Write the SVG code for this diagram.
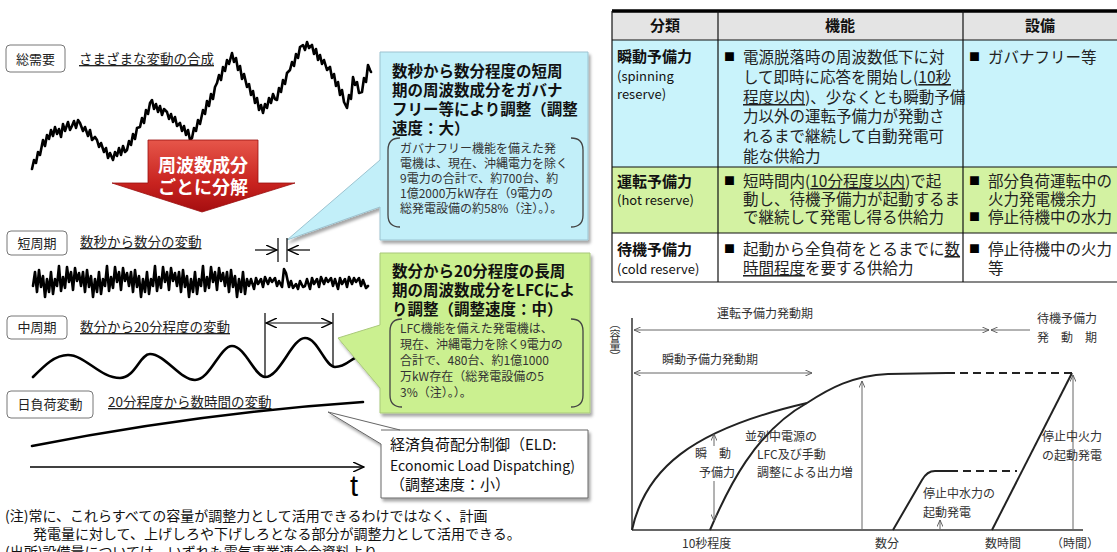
<svg xmlns="http://www.w3.org/2000/svg" width="1117" height="552" viewBox="0 0 1117 552">
<style>
text{font-family:"Noto Sans CJK JP","Noto Sans",sans-serif;fill:#222}
.lbl{font-size:13px}
.ul{font-size:13.5px;text-decoration:underline}
.box{fill:#fff;stroke:#777;stroke-width:1}
.ttl{font-size:15.5px;font-weight:bold;fill:#111}
.sm{font-size:12px;fill:#333}
.brk{fill:none;stroke:#444;stroke-width:1.3}
.wave{fill:none;stroke:#000;stroke-linejoin:round;stroke-linecap:round}
.th{font-size:15px;font-weight:bold;fill:#111}
.c1{font-size:15px;font-weight:bold;fill:#111}
.en{font-size:13px;fill:#111;font-weight:normal}
.td{font-size:15.5px;fill:#222}
.bul{font-size:11px;fill:#000}
.grid{stroke:#111;stroke-width:1.2}
.ch{font-size:12px;fill:#333}
.thin{fill:none;stroke:#555;stroke-width:0.9}
.crv{fill:none;stroke:#222;stroke-width:2}
.u{text-decoration:underline}
</style>
<defs>
<filter id="sh" x="-10%" y="-10%" width="130%" height="130%"><feDropShadow dx="2" dy="3" stdDeviation="1.8" flood-color="#000" flood-opacity="0.35"/></filter>
<linearGradient id="red" x1="0" y1="0" x2="0" y2="1"><stop offset="0" stop-color="#e6564a"/><stop offset="0.6" stop-color="#c8231f"/><stop offset="1" stop-color="#a50e10"/></linearGradient>
<marker id="chev" viewBox="0 0 10 8" refX="9" refY="4" markerWidth="8" markerHeight="6" markerUnits="userSpaceOnUse" orient="auto-start-reverse"><path d="M0,0 L9,4 L0,8" fill="none" stroke="#555" stroke-width="1.2"/></marker>
<marker id="chevB" viewBox="0 0 12 10" refX="11" refY="5" markerWidth="12" markerHeight="10" markerUnits="userSpaceOnUse" orient="auto-start-reverse"><path d="M0,0 L11,5 L0,10" fill="none" stroke="#000" stroke-width="1.4"/></marker>
</defs>
<rect width="1117" height="552" fill="#fff"/>

<!-- left side nodes -->
<g id="n-total">
<rect class="box" x="6" y="45" width="59" height="27" rx="4"/>
<text class="lbl" x="35.5" y="64" text-anchor="middle">総需要</text>
<text class="ul" x="79" y="64">さまざまな変動の合成</text>
<polyline class="wave" stroke-width="2.6" points="32,169 34,160 36,163 38,152 40,155 43,140 45,146 47,135 49,139 51,130 53,136 55,127 57,134 59,129 61,137 63,124 65,131 68,122 70,130 72,126 74,121 76,128 78,120 80,123 83,131 85,127 88,136 90,130 92,140 95,137 97,140 99,147 101,143 104,152 106,148 108,158 110,153 113,160 115,152 117,156 119,148 121,155 123,146 125,152 127,150 129,141 131,145 133,134 135,139 137,128 140,127 142,118 144,123 146,110 148,114 150,103 152,100 154,109 156,104 158,112 160,106 162,115 164,109 167,112 169,119 171,114 173,122 175,117 177,126 180,123 182,131 184,126 186,135 188,130 190,140 192,138 194,128 196,131 198,120 200,124 203,110 205,114 207,101 209,106 211,94 213,99 215,87 217,83 219,75 221,80 223,67 225,71 227,60 229,64 232,53 234,62 236,58 238,70 240,66 242,79 244,74 247,87 249,84 251,95 253,91 255,103 257,98 259,110 261,105 263,113 265,104 267,108 269,98 271,103 273,94 275,99 277,100 279,88 281,92 283,80 285,84 287,73 290,70 292,62 294,66 296,54 298,58 300,47 303,45 305,50 307,42 309,48 312,45 314,54 316,49 318,60 320,55 322,64 324,60 327,70 330,67 332,78 334,74 336,86 338,82 340,95 342,90 344,102 347,108 349,95 351,99 353,77 355,85 357,82 359,93 362,92 364,78 366,82 368,65 370,70 371,72"/>
</g>

<g id="n-decompose">
<path d="M148,140 L258,140 L258,183 L295,183 L202,212 L112,183 L148,183 Z" fill="url(#red)" stroke="#9a1010" stroke-width="0.8"/>
<text text-anchor="middle" style="font-size:18px;font-weight:bold;fill:#fff"><tspan x="203" y="172">周波数成分</tspan><tspan x="203" y="194">ごとに分解</tspan></text>
</g>

<g id="n-short">
<rect class="box" x="7" y="231" width="60" height="24" rx="4"/>
<text class="lbl" x="37" y="248" text-anchor="middle">短周期</text>
<text class="ul" x="80" y="247">数秒から数分の変動</text>
<path class="wave" stroke-width="2.6" d="M33,286 l2,-14 2,20 2,-22 2,17 2,-11 2,21 2,-18 2,13 2,-20 2,22 2,-15 2,7 l2,-20 2,25 2,-14 2,11 2,-21 2,15 2,-10 2,18 2,-22 2,13 2,-8 2,13 l2,-14 2,20 2,-22 2,17 2,-11 2,21 2,-18 2,13 2,-20 2,22 2,-15 2,7 l2,-20 2,25 2,-14 2,11 2,-21 2,15 2,-10 2,18 2,-22 2,13 2,-8 2,13 l2,-14 2,20 2,-22 2,17 2,-11 2,21 2,-18 2,13 2,-20 2,22 2,-15 2,7 l2,-20 2,25 2,-14 2,11 2,-21 2,15 2,-10 2,18 2,-22 2,13 2,-8 2,13 l2,-14 2,20 2,-22 2,17 2,-11 2,21 2,-18 2,13 2,-20 2,22 2,-15 2,7 l2,-20 2,25 2,-14 2,11 2,-21 2,15 2,-10 2,18 2,-22 2,13 2,-8 2,13 l2,-14 2,20 2,-22 2,17 2,-11 2,21 2,-18 2,13 2,-20 2,22 2,-15 2,7 l2,-7 3,10 2,-11 2,6 3,-5 2,8 2,-10 3,7 2,-6 2,4 3,-4 2,8 l2,-5 3,6 2,-18 2,4 3,14 2,-6 2,7 3,-4 2,5 2,-8 3,6 2,-1 l2,-7 3,10 2,-11 2,6 3,-5 2,8 2,-10 3,7 2,-6 2,4 3,-4 2,8 l2,-7 3,10 2,-11 2,6 3,-5 2,8 2,-10 3,7 2,-6 2,4 3,-4 2,8 l2,-6 3,8 2,-2"/>
</g>

<g id="n-mid">
<rect class="box" x="7" y="316" width="60" height="23" rx="4"/>
<text class="lbl" x="37" y="332" text-anchor="middle">中周期</text>
<text class="ul" x="80" y="332">数分から20分程度の変動</text>
<path class="wave" stroke-width="2.6" d="M33,377 C45,365 55,355 68,355 C85,355 100,378 120,378 C135,378 140,354 150,354 C165,354 180,380 195,380 C210,380 220,346 232,346 C245,346 255,377 265,377 C280,377 292,338 305,338 C318,338 325,367 335,367 C345,367 350,360 355,358"/>
</g>

<g id="n-daily">
<rect class="box" x="7" y="391" width="86" height="27" rx="4"/>
<text class="lbl" x="50" y="409" text-anchor="middle">日負荷変動</text>
<text class="ul" x="108" y="407">20分程度から数時間の変動</text>
<path class="wave" stroke-width="2.6" d="M32,446 Q200,413 363,402"/>
</g>

<g id="n-axis">
<line x1="30" y1="467" x2="364" y2="467" stroke="#000" stroke-width="1.6" marker-end="url(#chevB)"/>
<text x="350" y="496" style="font-family:'Liberation Sans',sans-serif;font-size:29px;fill:#000">t</text>
</g>

<!-- callouts -->
<g id="n-governor">
<path d="M380,52 L588,52 L588,240 L380,240 L380,207 L287,240 L380,160 Z" fill="#c2eff9" stroke="#9cc3d0" stroke-width="1" filter="url(#sh)"/>
<text class="ttl"><tspan x="392" y="77">数秒から数分程度の短周</tspan><tspan x="392" y="96">期の周波数成分をガバナ</tspan><tspan x="392" y="115">フリー等により調整（調整</tspan><tspan x="392" y="134">速度：大）</tspan></text>
<path class="brk" d="M400,138 Q388,138 388,150 L388,215 Q388,227 400,227 M571,138 Q583,138 583,150 L583,215 Q583,227 571,227"/>
<text class="sm"><tspan x="400" y="153">ガバナフリー機能を備えた発</tspan><tspan x="400" y="168">電機は、現在、沖縄電力を除く</tspan><tspan x="400" y="183">9電力の合計で、約700台、約</tspan><tspan x="400" y="198">1億2000万kW存在（9電力の</tspan><tspan x="400" y="213">総発電設備の約58%（注）。）。</tspan></text>
</g>

<g id="n-lfc">
<path d="M380,253 L590,253 L590,413 L380,413 L380,388 L338,338 L380,325 Z" fill="#cbf090" stroke="#a9c87a" stroke-width="1" filter="url(#sh)"/>
<text class="ttl"><tspan x="392" y="277">数分から20分程度の長周</tspan><tspan x="392" y="296">期の周波数成分をLFCによ</tspan><tspan x="392" y="315">り調整（調整速度：中）</tspan></text>
<path class="brk" d="M402,319 Q390,319 390,331 L390,395 Q390,407 402,407 M571,319 Q583,319 583,331 L583,395 Q583,407 571,407"/>
<text class="sm"><tspan x="400" y="333">LFC機能を備えた発電機は、</tspan><tspan x="400" y="349">現在、沖縄電力を除く9電力の</tspan><tspan x="400" y="365">合計で、480台、約1億1000</tspan><tspan x="400" y="381">万kW存在（総発電設備の5</tspan><tspan x="400" y="397">3%（注）。）。</tspan></text>
</g>

<g id="n-eld">
<path d="M381,430 L588,430 L588,498 L381,498 L381,444 L328,412 L400,430" fill="#fff" stroke="#666" stroke-width="1" filter="url(#sh)"/>
<text style="fill:#111"><tspan x="390" y="450" style="font-size:15px">経済負荷配分制御（ELD:</tspan><tspan x="390" y="471" style="font-size:14px">Economic Load Dispatching)</tspan><tspan x="390" y="490" style="font-size:15px">（調整速度：小）</tspan></text>
</g>

<g id="connectors">
<line x1="278" y1="238" x2="278" y2="262" stroke="#000" stroke-width="1.2"/>
<line x1="287" y1="238" x2="287" y2="262" stroke="#000" stroke-width="1.2"/>
<line x1="255" y1="250" x2="277" y2="250" stroke="#000" stroke-width="1.2" marker-end="url(#chevB)"/>
<line x1="310" y1="250" x2="288" y2="250" stroke="#000" stroke-width="1.2" marker-end="url(#chevB)"/>
<line x1="265" y1="313" x2="265" y2="377" stroke="#000" stroke-width="1.2"/>
<line x1="333" y1="313" x2="333" y2="367" stroke="#000" stroke-width="1.2"/>
<line x1="266" y1="323" x2="332" y2="323" stroke="#000" stroke-width="1.2" marker-start="url(#chevB)" marker-end="url(#chevB)"/>
</g>

<g id="n-notes">
<text style="font-size:14px;fill:#111"><tspan x="5" y="521">(注)常に、これらすべての容量が調整力として活用できるわけではなく、計画</tspan><tspan x="33" y="539">発電量に対して、上げしろや下げしろとなる部分が調整力として活用できる。</tspan><tspan x="5" y="557">(出所)設備量については、いずれも電気事業連合会資料より</tspan></text>
</g>

<!-- table -->
<g id="n-table">
<rect x="612" y="12" width="505" height="28" fill="#e4e4e4"/>
<rect x="612" y="40" width="505" height="127" fill="#c9f3fb"/>
<rect x="612" y="167" width="505" height="66" fill="#d3f2a2"/>
<rect x="612" y="233" width="505" height="49" fill="#fff"/>
<line x1="612" y1="11" x2="1117" y2="11" stroke="#000" stroke-width="3.5"/>
<line class="grid" x1="612" y1="40" x2="1117" y2="40"/>
<line class="grid" x1="612" y1="167" x2="1117" y2="167"/>
<line class="grid" x1="612" y1="233" x2="1117" y2="233"/>
<line class="grid" x1="612" y1="282" x2="1117" y2="282"/>
<line class="grid" x1="612" y1="11" x2="612" y2="282"/>
<line class="grid" x1="718" y1="11" x2="718" y2="282"/>
<line class="grid" x1="963" y1="11" x2="963" y2="282"/>
<text class="th" x="665" y="31" text-anchor="middle">分類</text>
<text class="th" x="840" y="31" text-anchor="middle">機能</text>
<text class="th" x="1040" y="31" text-anchor="middle">設備</text>

<text class="c1"><tspan x="617" y="62">瞬動予備力</tspan><tspan class="en" x="617" y="81">(spinning</tspan><tspan class="en" x="617" y="99">reserve)</tspan></text>
<text class="bul" x="724" y="61">■</text>
<text class="td"><tspan x="743" y="63">電源脱落時の周波数低下に対</tspan><tspan x="743" y="83">して即時に応答を開始し(<tspan class="u">10秒</tspan></tspan><tspan x="743" y="103"><tspan class="u">程度以内</tspan>)、少なくとも瞬動予備</tspan><tspan x="743" y="122">力以外の運転予備力が発動さ</tspan><tspan x="743" y="142">れるまで継続して自動発電可</tspan><tspan x="743" y="162">能な供給力</tspan></text>
<text class="bul" x="969" y="61">■</text>
<text class="td" x="988" y="63">ガバナフリー等</text>

<text class="c1"><tspan x="617" y="187">運転予備力</tspan><tspan class="en" x="617" y="205">(hot reserve)</tspan></text>
<text class="bul" x="724" y="185">■</text>
<text class="td"><tspan x="743" y="187">短時間内(<tspan class="u">10分程度以内</tspan>)で起</tspan><tspan x="743" y="205">動し、待機予備力が起動するま</tspan><tspan x="743" y="223">で継続して発電し得る供給力</tspan></text>
<text class="bul"><tspan x="969" y="185">■</tspan><tspan x="969" y="221">■</tspan></text>
<text class="td"><tspan x="988" y="187">部分負荷運転中の</tspan><tspan x="988" y="205">火力発電機余力</tspan><tspan x="988" y="223">停止待機中の水力</tspan></text>

<text class="c1"><tspan x="617" y="255">待機予備力</tspan><tspan class="en" x="617" y="274">(cold reserve)</tspan></text>
<text class="bul" x="724" y="253">■</text>
<text class="td"><tspan x="743" y="255">起動から全負荷をとるまでに<tspan class="u">数</tspan></tspan><tspan x="743" y="274"><tspan class="u">時間程度</tspan>を要する供給力</tspan></text>
<text class="bul" x="969" y="253">■</text>
<text class="td"><tspan x="988" y="255">停止待機中の火力</tspan><tspan x="988" y="274">等</tspan></text>
</g>

<!-- chart -->
<g id="n-chart">
<line x1="632" y1="318" x2="632" y2="530" stroke="#333" stroke-width="1.5"/>
<line x1="632" y1="530" x2="1083" y2="530" stroke="#333" stroke-width="1.5"/>
<text x="615" y="318" writing-mode="vertical-rl" style="font-size:11px;fill:#333">（容量）</text>
<text class="ch" x="765" y="318" text-anchor="middle">運転予備力発動期</text>
<text class="ch"><tspan x="1037" y="323">待機予備力</tspan><tspan x="1037" y="342">発　動　期</tspan></text>
<text class="ch" x="710" y="364" text-anchor="middle">瞬動予備力発動期</text>
<line class="thin" x1="634" y1="330" x2="989" y2="330" marker-start="url(#chev)" marker-end="url(#chev)"/>
<line class="thin" x1="991" y1="330" x2="1030" y2="330" marker-start="url(#chev)"/>
<line class="thin" x1="634" y1="373" x2="812" y2="373" marker-start="url(#chev)" marker-end="url(#chev)"/>
<path class="crv" d="M632,530 C645,470 690,430 807,403"/>
<path class="crv" d="M710,530 C728,488 755,432 807,403 C830,388 852,376 888,374 L947,373"/>
<path class="crv" d="M947,373 L1073,373" stroke-dasharray="8,5"/>
<path class="crv" d="M893,530 L922,480 Q927,471 935,471 L950,471"/>
<path class="crv" d="M950,471 L1017,471" stroke-dasharray="8,5"/>
<path class="crv" d="M992,530 L1072,373"/>
<line class="thin" x1="862" y1="529" x2="862" y2="381" marker-end="url(#chev)"/>
<line class="thin" x1="1073" y1="529" x2="1073" y2="375" marker-end="url(#chev)"/>
<line class="thin" x1="714" y1="446" x2="714" y2="434" marker-end="url(#chev)"/>
<line class="thin" x1="714" y1="481" x2="714" y2="521" marker-end="url(#chev)"/>
<line class="thin" x1="940" y1="529" x2="940" y2="520" marker-end="url(#chev)"/>
<text class="ch"><tspan x="695" y="458">瞬　動</tspan><tspan x="699" y="477">予備力</tspan></text>
<text class="ch"><tspan x="745" y="441">並列中電源の</tspan><tspan x="757" y="459">LFC及び手動</tspan><tspan x="757" y="477">調整による出力増</tspan></text>
<text class="ch" x="682" y="548">10秒程度</text>
<text class="ch" x="875" y="548">数分</text>
<text class="ch" x="985" y="548">数時間</text>
<text class="ch" x="1051" y="548">（時間）</text>
<text class="ch"><tspan x="1042" y="441">停止中火力</tspan><tspan x="1042" y="460">の起動発電</tspan></text>
<text class="ch"><tspan x="923" y="498">停止中水力の</tspan><tspan x="923" y="517">起動発電</tspan></text>
</g>
</svg>
